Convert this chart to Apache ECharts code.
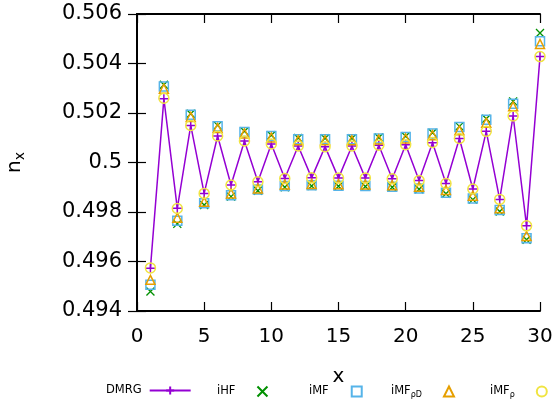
<!DOCTYPE html>
<html>
<head>
<meta charset="utf-8">
<script src="https://cdn.jsdelivr.net/npm/echarts@6/dist/echarts.min.js"></script>
<style>
html,body{margin:0;padding:0;background:#fff;}
#c{width:559px;height:405px;}
</style>
</head>
<body>
<div id="c"></div>
<script>
var sites = [1,2,3,4,5,6,7,8,9,10,11,12,13,14,15,16,17,18,19,20,21,22,23,24,25,26,27,28,29,30];
var dmrg = [0.49573,0.50258,0.49815,0.50150,0.49875,0.50107,0.49909,0.50087,0.49922,0.50075,
            0.49935,0.50067,0.49938,0.50064,0.49937,0.50067,0.49937,0.50070,0.49934,0.50072,
            0.49927,0.50080,0.49915,0.50097,0.49893,0.50126,0.49851,0.50188,0.49744,0.50428];
var iHF = [0.49479,0.50314,0.49752,0.50197,0.49828,0.50150,0.49862,0.50126,0.49886,0.50110,
           0.49900,0.50099,0.49905,0.50098,0.49904,0.50098,0.49903,0.50101,0.49900,0.50106,
           0.49892,0.50120,0.49874,0.50146,0.49850,0.50177,0.49802,0.50247,0.49688,0.50523];
var iMF = [0.49506,0.50307,0.49765,0.50193,0.49835,0.50146,0.49868,0.50123,0.49891,0.50107,
           0.49905,0.50094,0.49908,0.50094,0.49906,0.50094,0.49905,0.50097,0.49902,0.50103,
           0.49895,0.50117,0.49878,0.50143,0.49855,0.50173,0.49808,0.50237,0.49694,0.50490];
var iMFrhoD = [0.49526,0.50298,0.49777,0.50184,0.49841,0.50139,0.49875,0.50117,0.49895,0.50101,
               0.49911,0.50090,0.49913,0.50090,0.49912,0.50090,0.49911,0.50093,0.49908,0.50097,
               0.49902,0.50110,0.49889,0.50130,0.49866,0.50161,0.49815,0.50227,0.49703,0.50479];
var iMFrho = [0.49574,0.50260,0.49814,0.50150,0.49875,0.50107,0.49909,0.50087,0.49922,0.50075,
              0.49935,0.50067,0.49938,0.50064,0.49937,0.50067,0.49937,0.50070,0.49934,0.50072,
              0.49927,0.50081,0.49915,0.50097,0.49893,0.50126,0.49851,0.50188,0.49744,0.50428];
var yTicks = [0.494,0.496,0.498,0.5,0.502,0.504,0.506];
var xTicks = [0,5,10,15,20,25,30];

function pairs(ys){ return sites.map(function(x,i){ return [x, ys[i]]; }); }

var PLUS = 'path://M5,0L5,10M0,5L10,5';
var CROSS = 'path://M0,0L10,10M10,0L0,10';
var FONT = 'DejaVu Sans';

function makeRich(padR){
  return {
    n:{fontFamily:FONT,fontSize:11.5,color:'#000',lineHeight:16},
    e:{fontFamily:FONT,fontSize:11.5,color:'#000',lineHeight:16,padding:[0,padR,0,0]},
    s:{fontFamily:FONT,fontSize:8,color:'#000',lineHeight:16,padding:[7,padR,0,0]}
  };
}
function legFmt(name){
  if(name==='iMF_rhoD') return '{n|iMF}{s|ρD}';
  if(name==='iMF_rho') return '{n|iMF}{s|ρ}';
  return '{e|'+name+'}';
}
function leg(name,left,w,padR){
  return {data:[name],left:left,top:384,padding:0,orient:'horizontal',align:'right',
    itemWidth:w,itemHeight:10,formatter:legFmt,selectedMode:false,
    textStyle:{fontFamily:FONT,fontSize:11.5,color:'#000',rich:makeRich(padR)}};
}

var chart = echarts.init(document.getElementById('c'));
var axisCommon = {
  axisLine:{show:true,lineStyle:{color:'#000',width:2}},
  axisTick:{show:true,inside:true,length:9,lineStyle:{color:'#000',width:1.2}},
  splitLine:{show:false}
};
chart.setOption({
  animation:false,
  backgroundColor:'#fff',
  grid:{left:137,right:19,top:14,bottom:94,containLabel:false,outerBoundsMode:'none'},
  legend:[leg('DMRG',106,41,3),leg('iHF',217,10,17),leg('iMF',309,10,18),leg('iMF_rhoD',391,10,17),leg('iMF_rho',490,10,17)],
  xAxis:[
    Object.assign({type:'value',min:0,max:30,interval:5,position:'bottom',
      name:'x',nameLocation:'middle',nameGap:56,
      nameTextStyle:{fontFamily:FONT,fontSize:20,color:'#000'},
      axisLabel:{fontFamily:FONT,fontSize:20,color:'#000',margin:16,
        formatter:function(v){return xTicks.indexOf(v)>=0?String(v):'';}}},axisCommon),
    Object.assign({type:'value',min:0,max:30,interval:5,position:'top',axisLabel:{show:false}},axisCommon)
  ],
  yAxis:[
    Object.assign({type:'value',min:0.494,max:0.506,interval:0.002,position:'left',
      name:'{m|n}{s|x}',nameLocation:'middle',nameGap:109,nameRotate:90,
      nameTextStyle:{fontFamily:FONT,fontSize:20,color:'#000',
        rich:{m:{fontFamily:FONT,fontSize:20,color:'#000',lineHeight:26},
              s:{fontFamily:FONT,fontSize:14,color:'#000',lineHeight:26,padding:[10,0,0,0]}}},
      axisLabel:{fontFamily:FONT,fontSize:21,color:'#000',margin:15,
        formatter:function(v){var r=+v.toFixed(3);return String(r);}}},axisCommon),
    Object.assign({type:'value',min:0.494,max:0.506,interval:0.002,position:'right',axisLabel:{show:false}},axisCommon)
  ],
  series:[
    {name:'DMRG',type:'line',data:pairs(dmrg),symbol:PLUS,symbolSize:9,showAllSymbol:true,
     lineStyle:{color:'#9400d3',width:1.5},
     itemStyle:{color:'none',borderColor:'#9400d3',borderWidth:1.5},z:2},
    {name:'iHF',type:'scatter',data:pairs(iHF),symbol:CROSS,symbolSize:8,
     itemStyle:{color:'none',borderColor:'#009000',borderWidth:1.3,opacity:1},z:3},
    {name:'iMF',type:'scatter',data:pairs(iMF),symbol:'rect',symbolSize:9,
     itemStyle:{color:'none',borderColor:'#56b4e9',borderWidth:1.5,opacity:1},z:4},
    {name:'iMF_rhoD',type:'scatter',data:pairs(iMFrhoD),symbol:'triangle',symbolSize:9,
     itemStyle:{color:'none',borderColor:'#e69f00',borderWidth:1.5,opacity:1},z:5},
    {name:'iMF_rho',type:'scatter',data:pairs(iMFrho),symbol:'circle',symbolSize:10,
     itemStyle:{color:'none',borderColor:'#f0e442',borderWidth:1.5,opacity:1},z:6}
  ]
});
</script>
</body>
</html>
